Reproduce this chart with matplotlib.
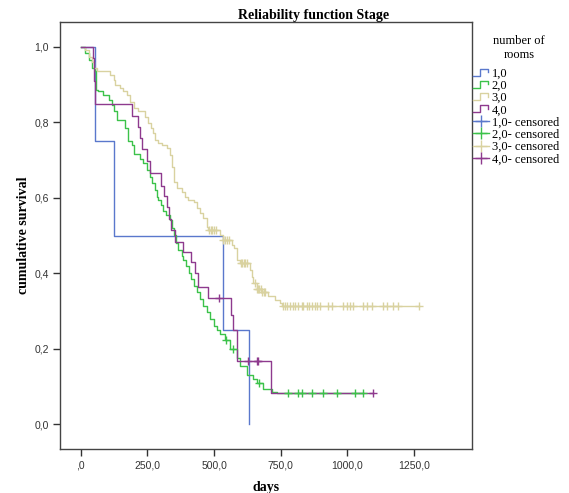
import numpy as np
import matplotlib
matplotlib.use('Agg')
import matplotlib.pyplot as plt
from matplotlib.lines import Line2D
from matplotlib.legend_handler import HandlerBase

# ---------------- data ----------------
groups = ['1,0', '2,0', '3,0', '4,0']
colors = ['#5a78cc', '#3cc24a', '#d9d2a0', '#8e3a8e']

# group 1,0
t1 = [0, 54, 126, 533, 633]
s1 = [1.0, 0.75, 0.5, 0.25, 0.0]
end1 = 633
c1 = []

# group 2,0
t2 = [0, 16, 29, 42, 54, 58, 66, 85, 104, 116, 123, 135, 166, 179, 192, 198,
      223, 235, 248, 260, 267, 278, 285, 291, 300, 310, 320, 335, 342, 348,
      357, 366, 379, 385, 395, 405, 415, 425, 437, 448, 460, 473, 485, 498,
      510, 523, 541, 560, 585, 598, 623, 648, 660, 685, 717, 735]
s2 = [1.0, 0.983, 0.966, 0.944, 0.935, 0.886, 0.882, 0.873, 0.860, 0.846,
      0.829, 0.807, 0.785, 0.751, 0.740, 0.716, 0.703, 0.692, 0.674, 0.656,
      0.639, 0.620, 0.603, 0.595, 0.580, 0.566, 0.555, 0.542, 0.520, 0.502,
      0.480, 0.462, 0.445, 0.436, 0.420, 0.400, 0.385, 0.368, 0.350, 0.332,
      0.315, 0.297, 0.280, 0.262, 0.250, 0.240, 0.224, 0.200, 0.175, 0.155,
      0.131, 0.120, 0.109, 0.093, 0.087, 0.083]
end2 = 1060
c2 = [545, 571, 670, 779, 816, 829, 867, 910, 960, 1029, 1060]

# group 3,0
t3 = [0, 16, 29, 42, 48, 60, 110, 123, 129, 148, 160, 173, 185, 198, 215,
      242, 254, 263, 270, 279, 291, 304, 323, 335, 342, 348, 360, 379, 392,
      404, 423, 435, 448, 460, 473, 478, 523, 532, 566, 575, 585, 598, 635,
      642, 648, 660, 680, 704, 729, 748, 754]
s3 = [1.0, 0.992, 0.974, 0.961, 0.944, 0.935, 0.926, 0.913, 0.899, 0.890,
      0.882, 0.873, 0.855, 0.838, 0.829, 0.815, 0.798, 0.785, 0.772, 0.754,
      0.745, 0.740, 0.732, 0.714, 0.683, 0.643, 0.625, 0.617, 0.603, 0.595,
      0.590, 0.573, 0.559, 0.546, 0.524, 0.515, 0.502, 0.489, 0.475, 0.467,
      0.436, 0.427, 0.409, 0.390, 0.374, 0.360, 0.350, 0.339, 0.330, 0.321,
      0.315]
end3 = 1270
c3 = [480, 487, 494, 500, 506, 535, 541, 547, 556, 600, 606, 612, 618, 625,
      655, 660, 665, 670, 675, 680, 686, 692, 760, 766, 775, 785, 795, 804,
      816, 829, 835, 848, 858, 866, 879, 888, 898, 929, 941, 985, 998, 1010,
      1023, 1060, 1075, 1091, 1135, 1148, 1173, 1191, 1270]

# group 4,0
t4 = [0, 44, 51, 54, 192, 213, 223, 229, 250, 258, 302, 314, 325, 331, 339,
      354, 383, 413, 429, 440, 479, 563, 573, 588, 713]
s4 = [1.0, 0.97, 0.91, 0.848, 0.818, 0.788, 0.758, 0.729, 0.697, 0.667,
      0.631, 0.605, 0.577, 0.545, 0.515, 0.484, 0.458, 0.43, 0.40, 0.365,
      0.334, 0.29, 0.25, 0.167, 0.084]
end4 = 1098
c4 = [519, 627, 660, 666, 1098]

series = [(t1, s1, end1, c1), (t2, s2, end2, c2), (t3, s3, end3, c3), (t4, s4, end4, c4)]

xticks = [0, 250, 500, 750, 1000, 1250]
xticklabels = [',0', '250,0', '500,0', '750,0', '1000,0', '1250,0']
yticks = [0.0, 0.2, 0.4, 0.6, 0.8, 1.0]
yticklabels = ['0,0', '0,2', '0,4', '0,6', '0,8', '1,0']

# ---------------- figure ----------------
W, H = 569, 493
fig = plt.figure(figsize=(W / 100, H / 100), dpi=100)
ax = fig.add_axes([60 / W, 1 - 449 / H, (472 - 60) / W, (449 - 22) / H])

serif = 'Liberation Serif'
sans = 'Liberation Sans'

for (t, s, end, cens), col in zip(series, colors):
    xs = list(t) + ([end] if end > t[-1] else [])
    ys = list(s) + ([s[-1]] if end > t[-1] else [])
    ax.step(xs, ys, where='post', color=col, lw=1.0, zorder=3)
    if cens:
        ta = np.array(t)
        sa = np.array(s)
        cy = [sa[np.searchsorted(ta, c, side='right') - 1] for c in cens]
        ax.plot(cens, cy, linestyle='none', marker='+', color=col,
                markersize=6, mew=1.0, zorder=4)

ax.set_xlim(-78, 1468)
ax.set_ylim(-0.065, 1.066)
ax.set_xticks(xticks)
ax.set_xticklabels(xticklabels, fontsize=7.5, family=sans, color='#333333')
ax.set_yticks(yticks)
ax.set_yticklabels(yticklabels, fontsize=7.5, family=sans, color='#333333')
ax.tick_params(direction='out', length=5, width=1, color='#333333', pad=3)
for sp in ax.spines.values():
    sp.set_color('#444444')
    sp.set_linewidth(1.0)

ax.set_xlabel('days', fontsize=10, family=serif, fontweight='bold', labelpad=8)
ax.set_ylabel('cumulative survival', fontsize=10, family=serif, fontweight='bold', labelpad=3)
fig.text(314 / W, 1 - 15 / H, 'Reliability function Stage', ha='center', va='center',
         fontsize=10, family=serif, fontweight='bold')

# legend title
fig.text(519 / W, 1 - 41 / H, 'number of', ha='center', va='center',
         fontsize=9, family=serif)
fig.text(519 / W, 1 - 55 / H, 'rooms', ha='center', va='center',
         fontsize=9, family=serif)


class StepHandler(HandlerBase):
    def create_artists(self, legend, orig_handle, xdescent, ydescent, width,
                       height, fontsize, trans):
        x0, y0 = -xdescent, -ydescent
        xs = [x0, x0 + 0.45 * width, x0 + 0.45 * width, x0 + 0.95 * width, x0 + 0.95 * width]
        ys = [y0 + 0.1 * height, y0 + 0.1 * height, y0 + 0.9 * height,
              y0 + 0.9 * height, y0 + 0.5 * height]
        ln = Line2D(xs, ys, color=orig_handle.get_color(), lw=1.0, transform=trans)
        return [ln]


handles = []
labels = []
hmap = {}
for g, col in zip(groups, colors):
    h = Line2D([], [], color=col, lw=1.0)
    handles.append(h)
    labels.append(g)
    hmap[h] = StepHandler()
for g, col in zip(groups, colors):
    h = Line2D([], [], color=col, lw=1.0, marker='+', markersize=9, mew=1.0)
    handles.append(h)
    labels.append(g + '- censored')

leg = fig.legend(handles, labels, handler_map=hmap, loc='upper left',
                 bbox_to_anchor=(473 / W, 1 - 67.5 / H), frameon=False,
                 prop={'family': serif, 'size': 9},
                 handlelength=1.3, handletextpad=0.2, labelspacing=0.02,
                 borderaxespad=0, borderpad=0, numpoints=1)

fig.savefig('out.png', dpi=100)
